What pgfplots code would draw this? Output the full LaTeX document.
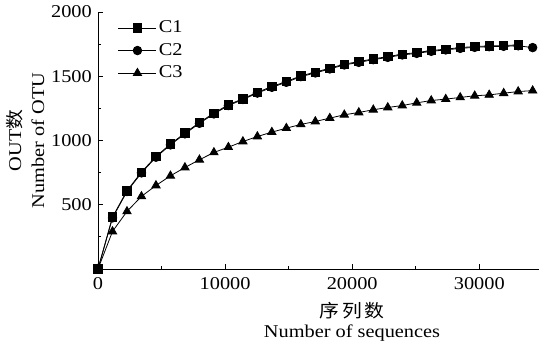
\documentclass[border=0pt]{standalone}
\usepackage{pgfplots}
\pgfplotsset{compat=1.18}
\usepackage{fontspec}
\setmainfont{Liberation Serif}[FakeStretch=1.13]
\newfontfamily\cjk{Noto Sans CJK SC}[FakeStretch=1.1]
\begin{document}
\fontsize{18}{21}\selectfont
\begin{tikzpicture}
\begin{axis}[
  name=ax, scale only axis, width=441pt, height=257pt,
  xmin=0, xmax=34700, ymin=0, ymax=2000,
  axis x line*=bottom, axis y line*=left,
  tick align=inside,
  xtick={0,10000,20000,30000}, minor xtick={5000,15000,25000},
  ytick={500,1000,1500,2000}, minor ytick={250,750,1250,1750},
  scaled x ticks=false,
  /pgf/number format/assume math mode=true,
  /pgf/number format/1000 sep={},
  major tick length=5pt, minor tick length=3pt,
  every tick/.style={black, line width=0.8pt},
  axis line style={black, line width=0.8pt},
  tick label style={font=\fontsize{18}{20}\selectfont},
  xticklabel style={yshift=-2pt},
  ylabel={OUT{\cjk 数}\\Number of OTU},
  ylabel style={at={(axis description cs:-0.165,0.5)}, anchor=center, align=center, font=\fontsize{18}{23}\selectfont},
  xlabel={{\cjk 序\,列\,数}\\Number of sequences},
  xlabel style={at={(axis description cs:0.576,-0.204)}, anchor=center, align=center, font=\fontsize{18}{20}\selectfont},
  legend style={at={(axis description cs:0.045,0.975)}, anchor=north west, draw=none, fill=none, inner sep=0pt, row sep=4pt, font=\fontsize{18}{20}\selectfont, /tikz/every even column/.append style={column sep=2pt}},
  legend cell align=left,
  legend image code/.code={\draw[#1, mark repeat=2, mark phase=2] plot coordinates {(0pt,0pt) (19pt,0pt) (38pt,0pt)};},
  every axis plot/.append style={black, line width=0.8pt},
]
\addplot[mark=square*, mark size=4.2pt] coordinates {
(0,0) (1140,404) (2280,609) (3420,754) (4560,876) (5700,972) (6840,1058)
(7980,1140) (9120,1213) (10260,1278) (11400,1325) (12540,1375) (13680,1420)
(14820,1459) (15960,1503) (17100,1532) (18240,1563) (19380,1594) (20520,1614)
(21660,1635) (22800,1653) (23940,1672) (25080,1684) (26220,1700) (27360,1711)
(28500,1723) (29640,1731) (30780,1736) (31920,1739) (33060,1744)
};
\addlegendentry{C1}
\addplot[mark=*, mark size=4.3pt] coordinates {
(0,0) (1140,398) (2280,603) (3420,748) (4560,870) (5700,966) (6840,1052)
(7980,1134) (9120,1207) (10260,1272) (11400,1319) (12540,1369) (13680,1414)
(14820,1453) (15960,1497) (17100,1526) (18240,1557) (19380,1588) (20520,1608)
(21660,1629) (22800,1647) (23940,1666) (25080,1678) (26220,1694) (27360,1705)
(28500,1717) (29640,1725) (30780,1730) (31920,1733) (33060,1737) (34200,1723)
};
\addlegendentry{C2}
\addplot[mark=triangle*, mark size=4.8pt] coordinates {
(0,0) (1140,292) (2280,448) (3420,565) (4560,650) (5700,725) (6840,790)
(7980,850) (9120,907) (10260,948) (11400,992) (12540,1031) (13680,1065)
(14820,1096) (15960,1125) (17100,1148) (18240,1174) (19380,1200) (20520,1218)
(21660,1239) (22800,1257) (23940,1272) (25080,1293) (26220,1311) (27360,1322)
(28500,1335) (29640,1348) (30780,1355) (31920,1368) (33060,1381) (34200,1388)
};
\addlegendentry{C3}
\coordinate (ll) at (rel axis cs:0,0);
\coordinate (ur) at (rel axis cs:1,1);
\end{axis}
\pgfresetboundingbox
\path ([xshift=-98pt,yshift=-72pt]ll) rectangle ([yshift=12pt]ur);
\end{tikzpicture}
\end{document}
